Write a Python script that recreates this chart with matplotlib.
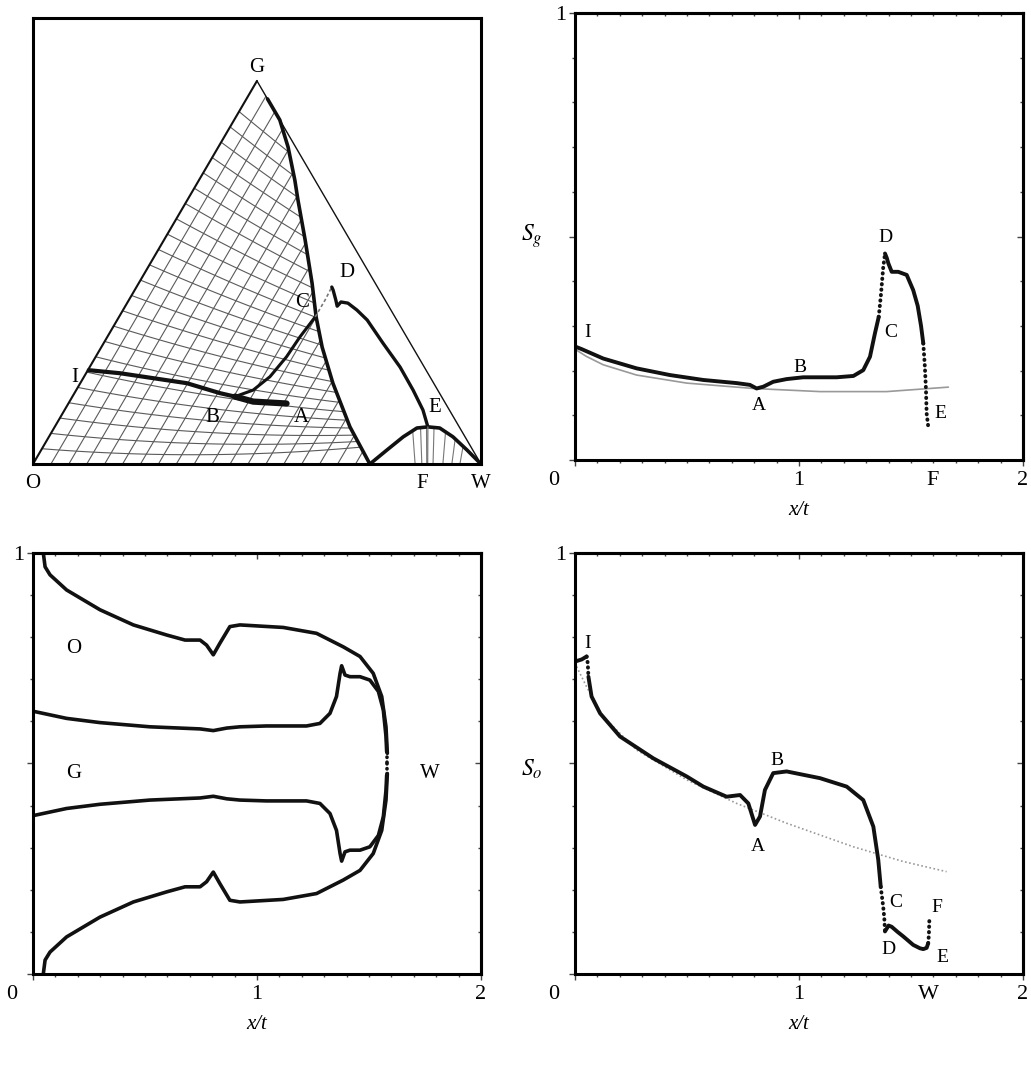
import numpy as np
import matplotlib.pyplot as plt
from matplotlib.patches import Polygon
from matplotlib.ticker import MultipleLocator

plt.rcParams['font.family'] = ['Liberation Serif', 'DejaVu Serif']
plt.rcParams['mathtext.fontset'] = 'stix'
plt.rcParams['lines.solid_joinstyle'] = 'round'
plt.rcParams['lines.solid_capstyle'] = 'round'

# ---------------- ternary diagram (Sw, Sg) ----------------
H = 0.859  # height of the G apex inside the square box

bnd1_sw = [0.047, 0.102, 0.156, 0.214, 0.247, 0.315, 0.387, 0.440, 0.493, 0.564, 0.659, 0.752]
bnd1_sg = [0.953, 0.898, 0.827, 0.741, 0.689, 0.585, 0.472, 0.384, 0.305, 0.211, 0.097, 0.0]
bnd2_sw = [0.752, 0.772, 0.791, 0.810, 0.833, 0.861, 0.902, 0.950, 1.0]
bnd2_sg = [0.0, 0.037, 0.071, 0.094, 0.097, 0.094, 0.071, 0.037, 0.0]

path_ia_sw = [0.002, 0.076, 0.238, 0.325, 0.363, 0.410, 0.487]
path_ia_sg = [0.245, 0.237, 0.211, 0.185, 0.176, 0.163, 0.158]
path_ba_sw = [0.363, 0.410, 0.487]
path_ba_sg = [0.176, 0.163, 0.158]
path_bc_sw = [0.363, 0.395, 0.415, 0.426, 0.430, 0.438]
path_bc_sg = [0.176, 0.193, 0.228, 0.280, 0.332, 0.384]
path_cd_sw = [0.438, 0.438, 0.436]
path_cd_sg = [0.384, 0.428, 0.462]
path_de_sw = [0.436, 0.443, 0.462, 0.473, 0.476, 0.493, 0.522, 0.558, 0.623, 0.693, 0.752, 0.800, 0.833]
path_de_sg = [0.462, 0.454, 0.428, 0.412, 0.423, 0.420, 0.402, 0.376, 0.316, 0.253, 0.193, 0.141, 0.097]
path_ef_sw = [0.833, 0.881]
path_ef_sg = [0.097, 0.0]

grid_sw = np.arange(0.04, 0.76, 0.04)
grid_sg = np.arange(0.04, 0.96, 0.04)
f_arc_x = [0.853, 0.868, 0.879, 0.893, 0.915, 0.935, 0.953]

# ---------------- Sg profile ----------------
sg1_x = [0.0, 0.03, 0.126, 0.275, 0.424, 0.573, 0.722, 0.781, 0.811, 0.841, 0.885, 0.945, 1.019, 1.168, 1.243, 1.287, 1.317, 1.339, 1.356]
sg1_y = [0.254, 0.248, 0.227, 0.205, 0.190, 0.179, 0.172, 0.168, 0.160, 0.164, 0.175, 0.181, 0.185, 0.185, 0.188, 0.201, 0.231, 0.283, 0.320]
sg_s1_x = [1.356, 1.366, 1.376, 1.384]
sg_s1_y = [0.320, 0.370, 0.430, 0.462]
sg2_x = [1.384, 1.392, 1.399, 1.414, 1.443, 1.481, 1.510, 1.530, 1.545, 1.555]
sg2_y = [0.462, 0.452, 0.440, 0.421, 0.421, 0.414, 0.380, 0.345, 0.300, 0.261]
sg_s2_x = [1.555, 1.562, 1.567, 1.570, 1.577]
sg_s2_y = [0.261, 0.209, 0.157, 0.104, 0.075]
sgr_x = [0.0, 0.05, 0.126, 0.275, 0.499, 0.796, 1.094, 1.391, 1.667]
sgr_y = [0.248, 0.232, 0.213, 0.190, 0.172, 0.160, 0.153, 0.153, 0.163]

# ---------------- So profile ----------------
so1_x = [0.0, 0.03, 0.052]
so1_y = [0.742, 0.747, 0.754]
so_s0_x = [0.052, 0.057, 0.060]
so_s0_y = [0.754, 0.738, 0.706]
so2_x = [0.060, 0.074, 0.112, 0.201, 0.350, 0.499, 0.573, 0.677, 0.737, 0.774, 0.804, 0.826, 0.848, 0.885, 0.945, 1.094, 1.213, 1.287, 1.332, 1.354, 1.365]
so2_y = [0.706, 0.659, 0.619, 0.564, 0.512, 0.469, 0.445, 0.421, 0.425, 0.405, 0.354, 0.374, 0.437, 0.477, 0.481, 0.465, 0.445, 0.413, 0.350, 0.271, 0.207]
so_s1_x = [1.365, 1.376, 1.381, 1.384]
so_s1_y = [0.207, 0.160, 0.132, 0.101]
so3_x = [1.384, 1.392, 1.400, 1.414, 1.440, 1.466, 1.510, 1.540, 1.555, 1.570, 1.577]
so3_y = [0.101, 0.108, 0.115, 0.112, 0.100, 0.089, 0.069, 0.061, 0.059, 0.062, 0.073]
so_s2_x = [1.577, 1.580, 1.582]
so_s2_y = [0.073, 0.093, 0.128]
sor_x = [0.007, 0.052, 0.126, 0.275, 0.499, 0.722, 0.945, 1.243, 1.466, 1.659]
sor_y = [0.730, 0.682, 0.611, 0.532, 0.461, 0.405, 0.358, 0.302, 0.267, 0.243]

# ---------------- phase boundaries (upper half, lower half is mirrored) ----------------
blo_x = [0.046, 0.054, 0.076, 0.150, 0.299, 0.448, 0.597, 0.679, 0.746, 0.775, 0.805, 0.835, 0.879, 0.924, 1.117, 1.266, 1.385, 1.460, 1.519, 1.557, 1.576, 1.582]
blo_y = [1.0, 0.967, 0.948, 0.912, 0.865, 0.829, 0.805, 0.793, 0.793, 0.781, 0.758, 0.786, 0.825, 0.829, 0.823, 0.809, 0.777, 0.754, 0.714, 0.659, 0.587, 0.524]
blg_x = [0.0, 0.009, 0.150, 0.299, 0.522, 0.746, 0.805, 0.865, 0.924, 1.042, 1.221, 1.281, 1.326, 1.355, 1.371, 1.378, 1.393, 1.415, 1.460, 1.504, 1.542, 1.564, 1.576, 1.579]
blg_y = [0.624, 0.623, 0.607, 0.597, 0.587, 0.582, 0.578, 0.584, 0.587, 0.589, 0.589, 0.595, 0.619, 0.659, 0.714, 0.732, 0.710, 0.706, 0.706, 0.698, 0.671, 0.627, 0.564, 0.528]
blw_x = [1.581, 1.581]
blw_y = [0.526, 0.5]

K = '#111111'
FS_TICK = 16
DOT = (0, (0.1, 1.3))


def tern(sw, sg):
    sw = np.asarray(sw, float)
    sg = np.asarray(sg, float)
    return sw + 0.5 * sg, H * sg


def frame(ax):
    ax.set_xlim(0, 2)
    ax.set_ylim(0, 1)
    for s in ax.spines.values():
        s.set_linewidth(2.2)
    ax.set_xticks([0, 1, 2])
    ax.set_xticklabels(['', '1', '2'])
    ax.set_yticks([0, 0.5, 1])
    ax.set_yticklabels(['', '', '1'])
    ax.xaxis.set_minor_locator(MultipleLocator(0.1))
    ax.yaxis.set_minor_locator(MultipleLocator(0.1))
    ax.tick_params(which='both', direction='out', color='#444', width=1, labelsize=FS_TICK)
    ax.tick_params(which='major', length=4)
    ax.tick_params(which='minor', length=2.5)
    ax.tick_params(axis='x', pad=4)
    ax.tick_params(axis='y', pad=2)
    for side in ('top', 'right'):
        sec = ax.secondary_xaxis('top') if side == 'top' else ax.secondary_yaxis('right')
        sec.spines[side].set_linewidth(2.2)
        axis = sec.xaxis if side == 'top' else sec.yaxis
        axis.set_major_locator(MultipleLocator(0.5 if side == 'right' else 1))
        axis.set_minor_locator(MultipleLocator(0.1))
        sec.tick_params(which='both', direction='in', color='#444', width=1,
                        labelleft=False, labelright=False, labeltop=False)
        sec.tick_params(which='major', length=4)
        sec.tick_params(which='minor', length=2.5)
    ax.annotate('0', xy=(0, 0), xycoords='axes fraction', xytext=(-15, -8),
                textcoords='offset points', ha='center', va='top', fontsize=FS_TICK)
    ax.set_xlabel('x/t', fontstyle='italic', fontsize=15, labelpad=8)


def xlab(ax, x, s):
    ax.annotate(s, xy=(x, 0), xycoords=('data', 'axes fraction'), xytext=(0, -8),
                textcoords='offset points', ha='center', va='top', fontsize=FS_TICK)


fig = plt.figure(figsize=(10.31, 10.67), dpi=100)
ax_t = fig.add_axes([0.0320, 0.5651, 0.4345, 0.4180])
ax_g = fig.add_axes([0.5577, 0.5689, 0.4345, 0.4189])
ax_p = fig.add_axes([0.0320, 0.0872, 0.4345, 0.3946])
ax_o = fig.add_axes([0.5577, 0.0872, 0.4345, 0.3946])

# ---------------- ternary ----------------
ax_t.set_xlim(0, 1)
ax_t.set_ylim(0, 1)
ax_t.set_xticks([])
ax_t.set_yticks([])
for s in ax_t.spines.values():
    s.set_linewidth(2.2)

bx, by = tern(bnd1_sw, bnd1_sg)
region = Polygon(np.column_stack([np.r_[0, 0.5, bx], np.r_[0, H, by]]), closed=True,
                 fc='none', ec='none', transform=ax_t.transData)
ax_t.add_patch(region)
for sw in grid_sw:
    x, y = tern([sw, sw], [0, 1 - sw])
    ln, = ax_t.plot(x, y, color='#5a5a5a', lw=0.8)
    ln.set_clip_path(region)
for sg0 in grid_sg:
    d = np.linspace(0, 0.9, 90)
    m = np.tan(np.radians(3 + 40 * sg0))
    ln, = ax_t.plot(0.5 * sg0 + d, H * sg0 - m * d + 0.12 * d ** 2, color='#5a5a5a', lw=0.8)
    ln.set_clip_path(region)

ex, ey = tern(bnd2_sw, bnd2_sg)
fregion = Polygon(np.column_stack([ex, ey]), closed=True, fc='none', ec='none',
                  transform=ax_t.transData)
ax_t.add_patch(fregion)
for x0 in f_arc_x:
    yy = np.linspace(0, 0.12, 30)
    ln, = ax_t.plot(x0 + (x0 - 0.882) * 2.5 * yy, yy, color='#777777', lw=0.8)
    ln.set_clip_path(fregion)

ax_t.plot(*tern([0, 0], [0, 1]), color=K, lw=1.5)
ax_t.plot(*tern([0, 1], [1, 0]), color=K, lw=1.0)
ax_t.plot(bx, by, color=K, lw=2.6)
ax_t.plot(ex, ey, color=K, lw=2.6)
ax_t.plot(*tern(path_ia_sw, path_ia_sg), color=K, lw=3.0)
ax_t.plot(*tern(path_ba_sw, path_ba_sg), color=K, lw=4.5)
ax_t.plot(*tern(path_bc_sw, path_bc_sg), color=K, lw=2.2)
ax_t.plot(*tern(path_cd_sw, path_cd_sg), color='#777777', lw=1.2, ls=(0, (2, 1.5)))
ax_t.plot(*tern(path_de_sw, path_de_sg), color=K, lw=2.4)
ax_t.plot(*tern(path_ef_sw, path_ef_sg), color='#777777', lw=0.9)

t_labels = {'G': (0.5, 0.888), 'D': (0.701, 0.430), 'C': (0.600, 0.363), 'I': (0.094, 0.193),
            'B': (0.40, 0.105), 'A': (0.60, 0.105), 'E': (0.897, 0.126),
            'O': (0.0, -0.043), 'F': (0.868, -0.043), 'W': (1.0, -0.043)}
for s, (x, y) in t_labels.items():
    ax_t.text(x, y, s, ha='center', va='center', fontsize=15)

# ---------------- Sg ----------------
frame(ax_g)
ax_g.plot(sgr_x, sgr_y, color='#999999', lw=1.2)
ax_g.plot(sg1_x, sg1_y, color=K, lw=2.8)
ax_g.plot(sg_s1_x, sg_s1_y, color=K, lw=2.8, ls=DOT, dash_capstyle='round')
ax_g.plot(sg2_x, sg2_y, color=K, lw=2.8)
ax_g.plot(sg_s2_x, sg_s2_y, color=K, lw=2.8, ls=DOT, dash_capstyle='round')
ax_g.text(-0.096, 0.5, '$S_g$', transform=ax_g.transAxes, ha='center', va='center', fontsize=17)
xlab(ax_g, 1.598, 'F')
g_labels = {'I': (0.054, 0.286), 'B': (1.004, 0.208), 'A': (0.821, 0.121), 'D': (1.384, 0.497),
            'C': (1.41, 0.286), 'E': (1.63, 0.105)}
for s, (x, y) in g_labels.items():
    ax_g.text(x, y, s, ha='center', va='center', fontsize=14)

# ---------------- phase distribution ----------------
frame(ax_p)
ax_p.plot(blo_x, blo_y, color=K, lw=2.6)
ax_p.plot(blo_x, 1 - np.array(blo_y), color=K, lw=2.6)
ax_p.plot(blg_x, blg_y, color=K, lw=2.6)
ax_p.plot(blg_x, 1 - np.array(blg_y), color=K, lw=2.6)
ax_p.plot(blw_x, blw_y, color=K, lw=2.6, ls=DOT, dash_capstyle='round')
ax_p.plot(blw_x, 1 - np.array(blw_y), color=K, lw=2.6, ls=DOT, dash_capstyle='round')
p_labels = {'O': (0.183, 0.774), 'G': (0.183, 0.475), 'W': (1.772, 0.475)}
for s, (x, y) in p_labels.items():
    ax_p.text(x, y, s, ha='center', va='center', fontsize=15)

# ---------------- So ----------------
frame(ax_o)
ax_o.plot(sor_x, sor_y, color='#999999', lw=1.2, ls=(0, (1, 1.5)))
ax_o.plot(so1_x, so1_y, color=K, lw=2.8)
ax_o.plot(so_s0_x, so_s0_y, color=K, lw=2.8, ls=DOT, dash_capstyle='round')
ax_o.plot(so2_x, so2_y, color=K, lw=2.8)
ax_o.plot(so_s1_x, so_s1_y, color=K, lw=2.8, ls=DOT, dash_capstyle='round')
ax_o.plot(so3_x, so3_y, color=K, lw=2.8)
ax_o.plot(so_s2_x, so_s2_y, color=K, lw=2.8, ls=DOT, dash_capstyle='round')
ax_o.text(-0.096, 0.485, '$S_o$', transform=ax_o.transAxes, ha='center', va='center', fontsize=17)
xlab(ax_o, 1.576, 'W')
o_labels = {'I': (0.054, 0.786), 'B': (0.902, 0.508), 'A': (0.817, 0.302), 'C': (1.43, 0.169),
            'F': (1.616, 0.159), 'D': (1.40, 0.057), 'E': (1.64, 0.038)}
for s, (x, y) in o_labels.items():
    ax_o.text(x, y, s, ha='center', va='center', fontsize=14)

fig.savefig('out.png', dpi=100)
